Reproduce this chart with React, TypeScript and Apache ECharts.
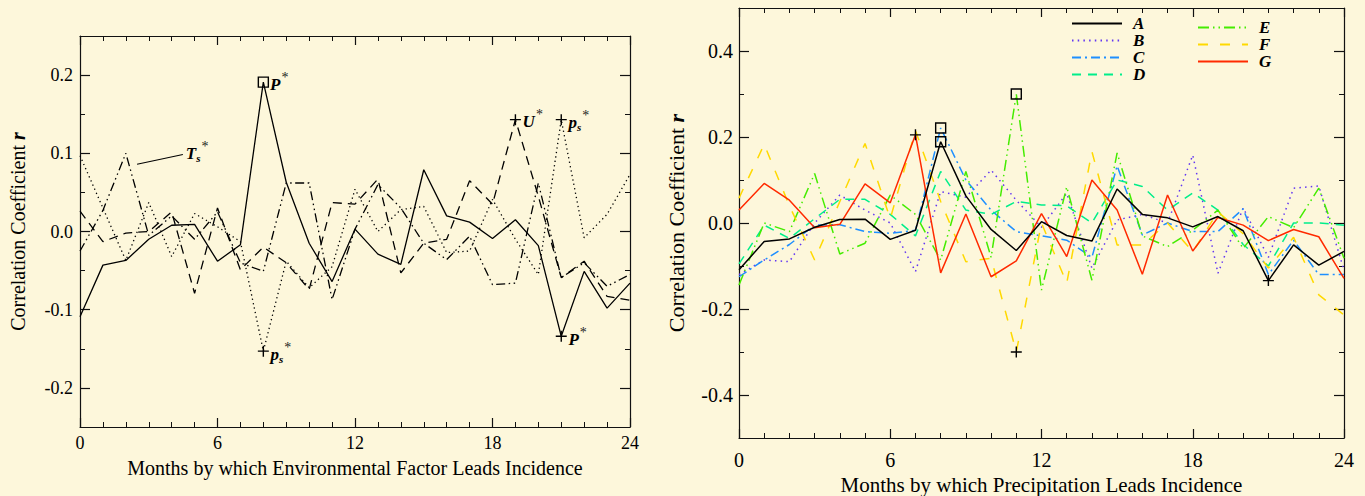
import React, { useEffect, useRef } from "react";
import * as echarts from "echarts";

const FONT = "'Liberation Serif', 'Times New Roman', serif";
const BG = "#fdf7db";

// lead months
const MONTHS = [0, 1, 2, 3, 4, 5, 6, 7, 8, 9, 10, 11, 12, 13, 14, 15, 16, 17, 18, 19, 20, 21, 22, 23, 24];
const LEFT_Y_LABELS = [-0.2, -0.1, 0, 0.1, 0.2];
const LEFT_Y_MINOR = [-0.15, -0.05, 0.05, 0.15];
const RIGHT_Y_LABELS = [-0.4, -0.2, 0, 0.2, 0.4];
const RIGHT_Y_MINOR = [-0.3, -0.1, 0.1, 0.3];

// Left panel: environmental factors
const P_VALS = [-0.109, -0.043, -0.037, -0.010, 0.008, 0.009, -0.038, -0.017, 0.191, 0.063, -0.015, -0.064, 0.003, -0.029, -0.042, 0.079, 0.020, 0.012, -0.009, 0.015, -0.018, -0.134, -0.051, -0.098, -0.066];
const PS_VALS = [0.097, 0.030, -0.037, 0.037, -0.032, 0.023, 0.006, -0.013, -0.153, -0.038, -0.072, -0.045, 0.054, 0.000, 0.028, 0.032, -0.027, -0.025, 0.041, -0.010, -0.055, 0.143, -0.008, 0.022, 0.073];
const U_VALS = [0.026, -0.013, -0.002, 0.000, 0.025, -0.079, 0.030, -0.049, -0.020, -0.040, -0.074, 0.037, 0.035, 0.067, -0.053, -0.015, -0.010, 0.065, 0.035, 0.143, 0.045, -0.059, -0.038, -0.083, -0.088];
const TS_VALS = [-0.025, 0.027, 0.100, -0.005, 0.020, -0.010, 0.025, -0.040, -0.051, 0.062, 0.062, -0.087, 0.003, 0.060, 0.030, -0.015, -0.036, -0.006, -0.068, -0.066, 0.062, -0.059, -0.040, -0.070, -0.055];

// Right panel: precipitation A..G
const A_VALS = [-0.109, -0.043, -0.037, -0.010, 0.008, 0.009, -0.038, -0.017, 0.189, 0.063, -0.015, -0.064, 0.003, -0.029, -0.042, 0.079, 0.020, 0.012, -0.009, 0.015, -0.018, -0.134, -0.051, -0.098, -0.066];
const B_VALS = [-0.120, -0.086, -0.090, 0.000, 0.065, 0.030, 0.000, -0.113, 0.073, 0.060, 0.123, 0.053, -0.010, 0.069, -0.105, 0.007, 0.020, 0.000, 0.158, -0.117, 0.035, -0.080, 0.081, 0.086, -0.110];
const C_VALS = [-0.125, -0.086, -0.050, -0.005, -0.004, -0.020, -0.024, -0.017, 0.221, 0.100, 0.030, -0.020, -0.030, -0.040, -0.080, 0.133, -0.028, 0.000, -0.020, -0.020, 0.033, -0.120, -0.040, -0.120, -0.120];
const D_VALS = [-0.095, -0.005, -0.036, 0.010, 0.055, 0.055, 0.020, -0.030, 0.120, 0.030, 0.020, 0.050, 0.042, 0.040, 0.000, 0.100, 0.085, 0.030, 0.070, 0.030, -0.050, -0.100, 0.000, 0.000, -0.005];
const E_VALS = [-0.144, 0.000, -0.020, 0.115, -0.072, -0.047, 0.065, 0.020, -0.086, 0.120, -0.080, 0.300, -0.156, 0.084, -0.133, 0.163, -0.030, -0.055, -0.017, 0.030, -0.059, 0.015, -0.011, 0.081, -0.082];
const F_VALS = [0.058, 0.183, 0.040, -0.086, 0.050, 0.185, 0.010, 0.215, 0.050, -0.090, -0.082, -0.300, 0.000, -0.140, 0.166, -0.051, -0.051, 0.000, -0.067, 0.026, -0.025, -0.105, -0.033, -0.167, -0.214];
const G_VALS = [0.030, 0.092, 0.053, -0.011, -0.003, 0.091, 0.047, 0.205, -0.116, 0.021, -0.125, -0.088, 0.022, -0.078, 0.100, 0.030, -0.119, 0.065, -0.065, 0.013, -0.005, -0.041, -0.015, -0.032, -0.129];

const RIGHT_NAMES = ["A", "B", "C", "D", "E", "F", "G"];
const RIGHT_COLORS = ["#000000", "#6236f2", "#1e8fff", "#00ee8a", "#44ec00", "#ffd900", "#ff2a00"];

const pairs = (vals: number[]) => MONTHS.map((m, i) => [m, vals[i]]);

const RICH = {
  m: { fontFamily: FONT, fontWeight: "bold", fontStyle: "italic", fontSize: 17, color: "#000" },
  sup: { fontFamily: FONT, fontSize: 14, color: "#222", padding: [0, 0, 14, 1] },
  sub: { fontFamily: FONT, fontWeight: "bold", fontStyle: "italic", fontSize: 11, color: "#000", padding: [9, 0, 0, 0] },
};

const PLUS = "path://M0,5L10,5M5,0L5,10";

const markerStyle = { color: "rgba(0,0,0,0)", borderColor: "#000", borderWidth: 1.4 };

function mark(coord: number[], kind: "rect" | "plus", text?: string, offset: number[] = [0, 0]) {
  return {
    coord,
    symbol: kind === "rect" ? "rect" : PLUS,
    symbolSize: kind === "rect" ? 10 : 11,
    itemStyle: markerStyle,
    label: text
      ? { show: true, position: "right", distance: 1, offset, formatter: text, rich: RICH }
      : { show: false },
  };
}

function xAxisPair(gridIndex: number, labelSize: number, labelMargin: number, name: string, nameSize: number, nameGap: number) {
  const common: any = {
    type: "value",
    gridIndex,
    min: 0,
    max: 24,
    interval: 6,
    splitLine: { show: false },
    axisLine: { show: true, onZero: false, lineStyle: { color: "#111", width: 1.2 } },
    axisTick: { show: true, inside: true, length: 9, lineStyle: { color: "#111", width: 1.2 } },
    minorTick: { show: true, splitNumber: 6, length: 5, lineStyle: { color: "#111", width: 1 } },
    minorSplitLine: { show: false },
  };
  return [
    {
      ...common,
      position: "bottom",
      axisLabel: { show: true, fontFamily: FONT, fontSize: labelSize, color: "#000", margin: labelMargin },
      name,
      nameLocation: "middle",
      nameGap,
      nameTextStyle: { fontFamily: FONT, fontSize: nameSize, color: "#000" },
    },
    { ...common, position: "top", axisLabel: { show: false } },
  ];
}

function yAxes(gridIndex: number, min: number, max: number, major: number[], minor: number[], labelSize: number, labelMargin: number, nameSize: number, nameGap: number) {
  const base: any = { type: "value", gridIndex, min, max, splitLine: { show: false } };
  const line = { show: true, onZero: false, lineStyle: { color: "#111", width: 1.2 } };
  const majorTick = { show: true, inside: true, length: 10, customValues: major, lineStyle: { color: "#111", width: 1.2 } };
  const minorTick = { show: true, inside: true, length: 5, customValues: minor, lineStyle: { color: "#111", width: 1 } };
  return [
    {
      ...base,
      position: "left",
      axisLine: line,
      axisTick: majorTick,
      axisLabel: {
        show: true,
        customValues: major,
        formatter: (v: number) => v.toFixed(1),
        fontFamily: FONT,
        fontSize: labelSize,
        color: "#000",
        margin: labelMargin,
      },
      name: "Correlation Coefficient {r|r}",
      nameLocation: "middle",
      nameRotate: 90,
      nameGap,
      nameTextStyle: {
        fontFamily: FONT,
        fontSize: nameSize,
        color: "#000",
        rich: { r: { fontFamily: FONT, fontSize: nameSize, fontWeight: "bold", fontStyle: "italic", color: "#000" } },
      },
    },
    { ...base, position: "left", axisLine: { show: false, onZero: false }, axisTick: minorTick, axisLabel: { show: false } },
    { ...base, position: "right", axisLine: line, axisTick: majorTick, axisLabel: { show: false } },
    { ...base, position: "right", axisLine: { show: false, onZero: false }, axisTick: minorTick, axisLabel: { show: false } },
  ];
}

export default function App() {
  const ref = useRef<HTMLDivElement>(null);

  useEffect(() => {
    if (!ref.current) return;
    const chart = echarts.init(ref.current, undefined, { renderer: "svg" });

    const leftSeries: any[] = [
      {
        name: "P",
        type: "line",
        xAxisIndex: 0,
        yAxisIndex: 0,
        data: pairs(P_VALS),
        symbol: "none",
        lineStyle: { color: "#000", width: 1.3, type: "solid" },
        markPoint: {
          silent: true,
          data: [
            mark([8, P_VALS[8]], "rect", "{m|P}{sup|*}", [0, 2]),
            mark([21, P_VALS[21]], "plus", "{m|P}{sup|*}", [0, 3]),
          ],
        },
      },
      {
        name: "ps",
        type: "line",
        xAxisIndex: 0,
        yAxisIndex: 0,
        data: pairs(PS_VALS),
        symbol: "none",
        lineStyle: { color: "#000", width: 1.3, type: [1.3, 3.2] },
        markPoint: {
          silent: true,
          data: [
            mark([8, PS_VALS[8]], "plus", "{m|p}{sub|s}{sup|*}", [0, 3]),
            mark([21, PS_VALS[21]], "plus", "{m|p}{sub|s}{sup|*}", [0, 3]),
          ],
        },
      },
      {
        name: "U",
        type: "line",
        xAxisIndex: 0,
        yAxisIndex: 0,
        data: pairs(U_VALS),
        symbol: "none",
        lineStyle: { color: "#000", width: 1.3, type: [9, 6] },
        markPoint: {
          silent: true,
          data: [mark([19, U_VALS[19]], "plus", "{m|U}{sup|*}", [0, 2])],
        },
      },
      {
        name: "Ts",
        type: "line",
        xAxisIndex: 0,
        yAxisIndex: 0,
        data: pairs(TS_VALS),
        symbol: "none",
        lineStyle: { color: "#000", width: 1.3, type: [9, 3.5, 1.5, 3.5, 1.5, 3.5] },
        markLine: {
          silent: true,
          symbol: ["none", "none"],
          lineStyle: { color: "#000", width: 1.1, type: "solid" },
          data: [
            [
              { coord: [2.49, 0.086] },
              { coord: [4.49, 0.0985] },
            ],
          ],
          label: { show: true, position: "end", distance: 3, formatter: "{m|T}{sub|s}{sup|*}", rich: RICH },
        },
      },
    ];

    const rightVals = [A_VALS, B_VALS, C_VALS, D_VALS, E_VALS, F_VALS, G_VALS];
    const rightDash: any[] = ["solid", [1.5, 4.2], [9, 4, 2, 4], [9, 7], [11, 4, 1.5, 4, 1.5, 4], [10, 12], "solid"];
    const rightMarks: any[][] = [
      [mark([8, A_VALS[8]], "rect"), mark([21, A_VALS[21]], "plus")],
      [],
      [mark([8, C_VALS[8]], "rect")],
      [],
      [mark([11, E_VALS[11]], "rect")],
      [mark([11, F_VALS[11]], "plus")],
      [mark([7, G_VALS[7]], "plus")],
    ];
    const rightSeries: any[] = RIGHT_NAMES.map((n, i) => ({
      name: n,
      type: "line",
      xAxisIndex: 2,
      yAxisIndex: 4,
      data: pairs(rightVals[i]),
      symbol: "none",
      z: i === 0 ? 3 : 2,
      lineStyle: { color: RIGHT_COLORS[i], width: 1.5, type: rightDash[i] },
      itemStyle: { color: RIGHT_COLORS[i] },
      markPoint: rightMarks[i].length ? { silent: true, data: rightMarks[i] } : undefined,
    }));

    const legendText = {
      fontFamily: FONT,
      fontSize: 17,
      fontWeight: "bold",
      fontStyle: "italic",
      color: "#000",
      lineHeight: 17,
      padding: [0, 0, 0, 6],
    };
    const legendCommon = {
      orient: "vertical",
      itemWidth: 50,
      itemHeight: 12,
      itemGap: 0,
      selectedMode: false,
      itemStyle: { opacity: 0 },
      textStyle: legendText,
    };

    chart.setOption({
      animation: false,
      backgroundColor: BG,
      grid: [
        { left: 80, top: 36, width: 550, height: 391, outerBoundsMode: "none", containLabel: false },
        { left: 739, top: 8, width: 605, height: 430, outerBoundsMode: "none", containLabel: false },
      ],
      legend: [
        { ...legendCommon, data: ["A", "B", "C", "D"], left: 1066, top: 10 },
        { ...legendCommon, data: ["E", "F", "G"], left: 1192, top: 14 },
      ],
      xAxis: [
        ...xAxisPair(0, 18, 7, "Months by which Environmental Factor Leads Incidence", 20, 31),
        ...xAxisPair(1, 20, 12, "Months by which Precipitation Leads Incidence", 21, 30),
      ],
      yAxis: [
        ...yAxes(0, -0.25, 0.25, LEFT_Y_LABELS, LEFT_Y_MINOR, 18, 7, 20, 52),
        ...yAxes(1, -0.5, 0.5, RIGHT_Y_LABELS, RIGHT_Y_MINOR, 20, 6, 22, 52),
      ],
      series: [...leftSeries, ...rightSeries],
    });

    return () => chart.dispose();
  }, []);

  return (
    <div
      ref={ref}
      style={{ position: "absolute", left: 0, top: 0, width: 1365, height: 496, background: BG }}
    />
  );
}
